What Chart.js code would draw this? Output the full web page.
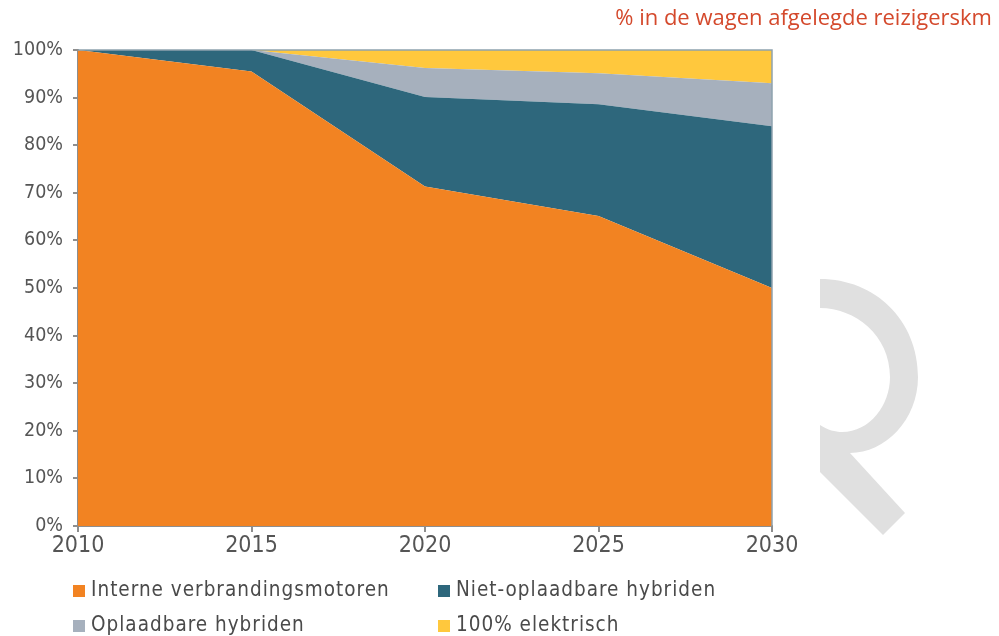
<!DOCTYPE html>
<html>
<head>
<meta charset="utf-8">
<script src="https://cdn.jsdelivr.net/npm/chart.js@4/dist/chart.umd.min.js"></script>
<style>
  html, body { margin: 0; padding: 0; background: #fff; }
  #wrap { position: relative; width: 999px; height: 636px; overflow: hidden; }
  #c { position: absolute; left: 0; top: 0; }
  #title { position: absolute; right: 7px; top: 1px; font-family: "Open Sans", sans-serif; font-size: 22px; color: #D4492C; white-space: nowrap; }
  #wm { position: absolute; left: 0; top: 0; }
  .lg { position: absolute; font-family: "DejaVu Sans Condensed", "DejaVu Sans", sans-serif; font-size: 20.5px; letter-spacing: 1px; color: #4a4a4a; white-space: nowrap; line-height: 24px; }
  .lg span.b { display: inline-block; width: 12px; height: 12px; margin-right: 6px; vertical-align: -1px; }
</style>
</head>
<body>
<div id="wrap">
  <svg id="wm" width="999" height="636">
    <path fill="#E0E0E0" d="M820 279 C 875 279, 918 320, 918 377 C 918 420, 885 453, 850 453 L 905 513 L 883 535 L 820 472 L 820 425 C 828 430, 835 432, 842 432 C 870 432, 890 405, 890 377 C 890 335, 855 308, 820 308 Z"/>
  </svg>
  <canvas id="c" width="999" height="636"></canvas>
  <div id="title">% in de wagen afgelegde reizigerskm</div>
  <div id="legend"></div>
</div>
<script>
const years = ["2010", "2015", "2020", "2025", "2030"];
const seriesNames = ["Interne verbrandingsmotoren", "Niet-oplaadbare hybriden", "Oplaadbare hybriden", "100% elektrisch"];
const verbranding = [100, 95.5, 71.3, 65.1, 50.0];
const nietOplaadbaar = [0, 4.5, 18.8, 23.5, 34.0];
const oplaadbaar = [0, 0, 6.1, 6.5, 9.0];
const elektrisch = [0, 0, 3.8, 4.9, 7.0];
const yTicks = [0, 10, 20, 30, 40, 50, 60, 70, 80, 90, 100];

const colors = ["#F28322", "#2E677C", "#A6B0BD", "#FFC83D"];
const values = [verbranding, nietOplaadbaar, oplaadbaar, elektrisch];

const datasets = values.map((v, i) => ({
  label: seriesNames[i],
  data: v,
  backgroundColor: colors[i],
  borderColor: colors[i],
  borderWidth: 0,
  pointRadius: 0,
  tension: 0,
  fill: i === 0 ? 'origin' : '-1'
}));

const borderPlugin = {
  id: 'plotBorder',
  afterDatasetsDraw(chart) {
    const a = chart.chartArea, ctx = chart.ctx;
    ctx.save();
    ctx.strokeStyle = '#8FA2AE';
    ctx.lineWidth = 1.5;
    ctx.beginPath();
    ctx.moveTo(a.left, a.top);
    ctx.lineTo(a.right, a.top);
    ctx.lineTo(a.right, a.bottom);
    ctx.stroke();
    ctx.restore();
  }
};

const yFont = { family: '"DejaVu Sans Condensed", "DejaVu Sans", sans-serif', size: 19.5 };
const xFont = { family: '"DejaVu Sans Condensed", "DejaVu Sans", sans-serif', size: 23 };

new Chart(document.getElementById('c'), {
  type: 'line',
  data: { labels: years, datasets },
  options: {
    responsive: false,
    animation: false,
    layout: { padding: { left: 0, top: 50, right: 227, bottom: 80 } },
    plugins: { legend: { display: false }, tooltip: { enabled: false } },
    elements: { line: { borderWidth: 0 } },
    scales: {
      x: {
        offset: false,
        grid: { display: true, drawOnChartArea: false, drawTicks: true, tickLength: 6, color: '#8E8E8E', lineWidth: 2 },
        border: { display: true, color: '#8E8E8E', width: 2 },
        ticks: { color: '#555', font: xFont, padding: 0, maxRotation: 0 },
        afterFit(s) { s.height = 30; }
      },
      y: {
        stacked: true,
        min: 0, max: 100,
        afterBuildTicks(s) { s.ticks = yTicks.map(v => ({ value: v })); },
        grid: { display: true, drawOnChartArea: false, drawTicks: true, tickLength: 5, color: '#8E8E8E', lineWidth: 2 },
        border: { display: true, color: '#8E8E8E', width: 2 },
        ticks: { color: '#555', font: yFont, padding: 10, callback: v => v + '%' },
        afterFit(s) { s.width = 78; }
      }
    }
  },
  plugins: [borderPlugin]
});

// legend from datasets
const legend = document.getElementById('legend');
const pos = [[73, 577], [438, 577], [73, 612], [438, 612]];
seriesNames.forEach((n, i) => {
  const d = document.createElement('div');
  d.className = 'lg';
  d.style.left = pos[i][0] + 'px';
  d.style.top = pos[i][1] + 'px';
  d.innerHTML = '<span class="b" style="background:' + colors[i] + '"></span>' + n;
  legend.appendChild(d);
});
</script>
</body>
</html>
